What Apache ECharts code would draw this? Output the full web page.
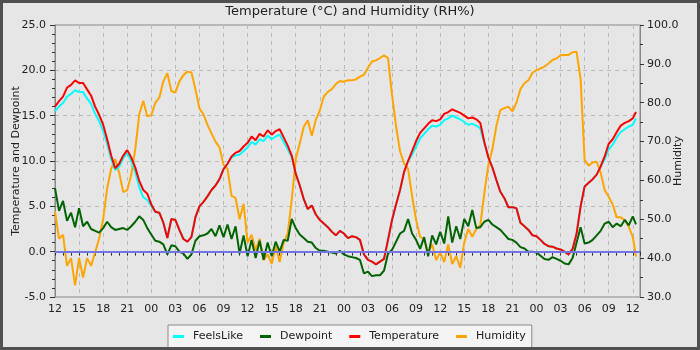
<!DOCTYPE html>
<html><head><meta charset="utf-8">
<script src="https://cdn.jsdelivr.net/npm/echarts@6.0.0/dist/echarts.min.js"></script>
<style>html,body{margin:0;padding:0;background:#e6e6e6}#c{width:700px;height:350px}</style>
</head><body><div id="c"></div>
<script>
// hours since 12:00 on day 1, half-hour readings
const hours = [];
for (let i = 0; i <= 144; i++) hours.push(i * 0.5);
hours.push(72.4);

const temperature = [
  16.0,16.6,17.1,18.1,18.4,18.9,18.6,18.6,17.9,17.2,16.0,15.1,
  14.0,12.4,10.6,9.2,9.7,10.6,11.2,10.4,9.3,7.8,6.8,6.4,
  5.2,4.4,4.3,3.2,1.5,3.6,3.5,2.4,1.4,1.1,1.6,3.8,
  5.0,5.5,6.1,6.8,7.3,8.0,9.1,9.7,10.5,10.9,11.1,11.6,
  12.0,12.7,12.3,13.0,12.7,13.4,12.9,13.3,13.5,12.6,11.7,10.6,
  8.6,7.3,5.8,4.7,5.1,4.1,3.5,3.1,2.7,2.2,1.8,2.3,
  2.0,1.5,1.7,1.6,1.3,-0.3,-0.9,-1.1,-1.4,-1.1,-0.8,1.3,
  3.5,5.2,6.8,8.8,10.0,11.1,12.2,13.1,13.6,14.1,14.5,14.4,
  14.6,15.2,15.4,15.7,15.5,15.3,15.0,14.7,14.8,14.6,14.2,12.1,
  10.4,9.3,7.9,6.6,5.9,4.9,4.9,4.8,3.2,2.8,2.4,1.8,
  1.7,1.3,0.85,0.6,0.55,0.35,0.25,0.0,-0.3,0.3,2.0,5.0,
  7.2,7.6,8.0,8.5,9.4,10.5,11.9,12.4,13.2,13.9,14.2,14.4,
  14.7,15.4
];
const feelsLike = [
  15.5,16.0,16.4,17.1,17.4,17.8,17.6,17.6,16.9,16.3,15.2,14.4,
  13.3,11.9,10.2,9.0,9.4,10.3,10.9,10.0,8.8,7.1,6.0,5.7,
  5.0,4.4,4.3,3.2,1.5,3.6,3.5,2.4,1.4,1.1,1.6,3.8,
  5.0,5.5,6.1,6.8,7.3,8.0,9.1,9.7,10.4,10.6,10.7,11.1,
  11.5,12.1,11.8,12.4,12.2,12.8,12.4,12.7,12.9,12.1,11.3,10.4,
  8.6,7.3,5.8,4.7,5.1,4.1,3.5,3.1,2.7,2.2,1.8,2.3,
  2.0,1.5,1.7,1.6,1.3,-0.3,-0.9,-1.1,-1.4,-1.1,-0.8,1.3,
  3.5,5.2,6.8,8.8,10.0,10.7,11.6,12.5,13.0,13.5,13.9,13.8,
  14.0,14.5,14.7,15.0,14.8,14.6,14.3,14.0,14.1,13.9,13.6,12.0,
  10.4,9.3,7.9,6.6,5.9,4.9,4.9,4.8,3.2,2.8,2.4,1.8,
  1.7,1.3,0.85,0.6,0.55,0.35,0.25,0.0,-0.3,0.3,2.0,5.0,
  7.2,7.6,8.0,8.5,9.4,10.2,11.3,11.8,12.6,13.2,13.5,13.8,
  14.0,14.7
];
const dewpoint = [
  7.0,4.5,5.6,3.4,4.3,2.7,4.8,2.8,3.3,2.5,2.3,2.1,
  2.6,3.3,2.7,2.4,2.5,2.6,2.4,2.8,3.3,3.9,3.5,2.6,
  1.9,1.2,1.1,0.8,-0.3,0.7,0.6,0.0,-0.2,-0.8,-0.3,1.2,
  1.7,1.8,2.0,2.5,1.7,2.9,1.6,3.0,1.4,2.8,-0.2,1.8,
  -0.5,1.3,-0.7,1.2,-0.9,1.0,-0.5,1.1,0.0,1.3,1.2,3.6,
  2.6,1.9,1.5,1.1,1.0,0.4,0.1,0.1,0.0,-0.1,-0.2,0.1,
  -0.3,-0.5,-0.6,-0.7,-0.9,-2.4,-2.2,-2.7,-2.6,-2.6,-2.1,-0.2,
  0.2,1.1,2.0,2.3,3.6,2.0,1.3,0.3,1.6,-0.5,1.8,0.8,
  2.2,0.9,3.9,1.0,2.8,1.4,3.6,2.8,4.6,2.6,2.7,3.3,
  3.5,3.0,2.7,2.4,1.9,1.4,1.3,1.0,0.5,0.35,0.0,0.0,
  -0.1,-0.45,-0.8,-0.9,-0.6,-0.8,-1.0,-1.3,-1.4,-0.7,1.0,2.7,
  0.9,1.0,1.3,1.8,2.3,3.1,3.3,2.7,3.1,2.8,3.5,2.9,
  3.9,3.0
];
const humidity = [
  52,45,46,38,40,33,40,35,40,38,41.5,45,
  50,58,63,65.5,62,57,57.5,61.5,68,77,80.5,76.5,
  76.8,80,81.3,85.5,87.6,83,82.6,85.5,87.1,88,87.8,83.5,
  78.5,77,74.3,72.1,70,68.5,64,63,56,55.5,50,54,
  44,46,42,45,39.5,41,38.5,43,39,44,46.4,55,
  65.5,69.5,73.8,75.5,71.5,75.6,78,81.6,82.8,83.5,84.8,85.6,
  85.4,85.8,85.8,86,86.7,87.2,89,90.6,90.9,91.5,92.2,91.5,
  82,74,67.5,64.4,63,56,49.8,45.5,44.8,41.5,43.5,39.5,
  41.5,39,43.5,38.5,40.5,37.5,44,47.5,45.5,47.5,48.5,56.7,
  64,68,74,78.1,78.6,79,77.8,80,83.5,85,85.8,87.7,
  88.4,88.8,89.3,90.1,91,91.4,92.2,92.3,92.3,93,93.1,86,
  65.3,63.8,64.6,64.8,62,57.5,55.8,53.8,50.5,50.5,49.8,48.1,
  45.5,40.4
];

const legendNames = ['FeelsLike','Dewpoint','Temperature','Humidity'];
const pair = arr => hours.map((h, i) => [h, arr[i]]);
const F = 'DejaVu Sans';
const txt = '#222';

const chart = echarts.init(document.getElementById('c'), null, {renderer: 'canvas'});
chart.setOption({
  animation: false,
  backgroundColor: '#e6e6e6',
  textStyle: {fontFamily: F},
  title: {
    text: 'Temperature (°C) and Humidity (RH%)',
    left: 'center', top: 0,
    textStyle: {fontFamily: F, fontSize: 13, fontWeight: 'normal', color: txt}
  },
  legend: {
    data: legendNames,
    left: 168, top: 325,
    icon: 'rect', itemWidth: 11, itemHeight: 3, itemGap: 17,
    backgroundColor: '#f4f4f4', borderColor: '#888', borderWidth: 1, borderRadius: 0,
    padding: [6, 6, 8, 5],
    textStyle: {fontFamily: F, fontSize: 11, color: txt, padding: [0, 0, 0, 4]}
  },
  grid: {left: 55, right: 60, top: 25, bottom: 53, outerBoundsMode: 'none', containLabel: false,
    show: true, borderColor: '#888', borderWidth: 1, backgroundColor: 'transparent'},
  xAxis: {
    type: 'value', min: 0, max: 72.9, interval: 3,
    axisLine: {lineStyle: {color: '#888'}},
    axisTick: {length: 4, lineStyle: {color: '#333'}},
    minorTick: {show: true, splitNumber: 3, length: 4, lineStyle: {color: '#333'}},
    axisLabel: {fontFamily: F, fontSize: 11, color: txt, margin: 7, showMaxLabel: false,
      formatter: v => String((12 + Math.round(v)) % 24).padStart(2, '0')},
    splitLine: {show: true, lineStyle: {color: '#bbb', type: [4, 4]}}
  },
  yAxis: [{
    type: 'value', min: -5, max: 25, interval: 5,
    name: 'Temperature and Dewpoint', nameLocation: 'middle', nameRotate: 90, nameGap: 33,
    nameMoveOverlap: false,
    nameTextStyle: {fontFamily: F, fontSize: 11, color: txt},
    axisLine: {show: true, lineStyle: {color: '#888'}},
    axisTick: {show: true, length: 5, lineStyle: {color: '#333'}},
    minorTick: {show: true, splitNumber: 5, length: 3, lineStyle: {color: '#333'}},
    axisLabel: {fontFamily: F, fontSize: 11, color: txt, margin: 9, formatter: v => v.toFixed(1)},
    splitLine: {show: true, lineStyle: {color: '#bbb', type: [4, 4]}}
  }, {
    type: 'value', min: 30, max: 100, interval: 10, position: 'right',
    name: 'Humidity', nameLocation: 'middle', nameRotate: 90, nameGap: 33,
    nameMoveOverlap: false,
    nameTextStyle: {fontFamily: F, fontSize: 11, color: txt},
    axisLine: {show: true, lineStyle: {color: '#888'}},
    axisTick: {show: true, length: 4, lineStyle: {color: '#333'}},
    minorTick: {show: true, splitNumber: 2, length: 3, lineStyle: {color: '#333'}},
    axisLabel: {fontFamily: F, fontSize: 11, color: txt, margin: 7, formatter: v => v.toFixed(1)},
    splitLine: {show: false}
  }],
  graphic: [{
    type: 'rect', silent: true, z: 100,
    shape: {x: 1.5, y: 1.5, width: 697, height: 347},
    style: {fill: null, stroke: '#505050', lineWidth: 3}
  }],
  series: [
    {name: 'Humidity', type: 'line', yAxisIndex: 1, data: pair(humidity), showSymbol: false,
      lineStyle: {color: '#ffa500', width: 2}, itemStyle: {color: '#ffa500'}},
    {name: 'FeelsLike', type: 'line', yAxisIndex: 0, data: pair(feelsLike), showSymbol: false,
      lineStyle: {color: '#00ffff', width: 2}, itemStyle: {color: '#00ffff'},
      markLine: {silent: true, symbol: 'none', label: {show: false},
        lineStyle: {color: '#7474e6', width: 2, type: 'solid'}, data: [{yAxis: 0}]}},
    {name: 'Dewpoint', type: 'line', yAxisIndex: 0, data: pair(dewpoint), showSymbol: false,
      lineStyle: {color: '#006400', width: 2}, itemStyle: {color: '#006400'}},
    {name: 'Temperature', type: 'line', yAxisIndex: 0, data: pair(temperature), showSymbol: false,
      lineStyle: {color: '#ff0000', width: 2}, itemStyle: {color: '#ff0000'}}
  ]
});
</script></body></html>
